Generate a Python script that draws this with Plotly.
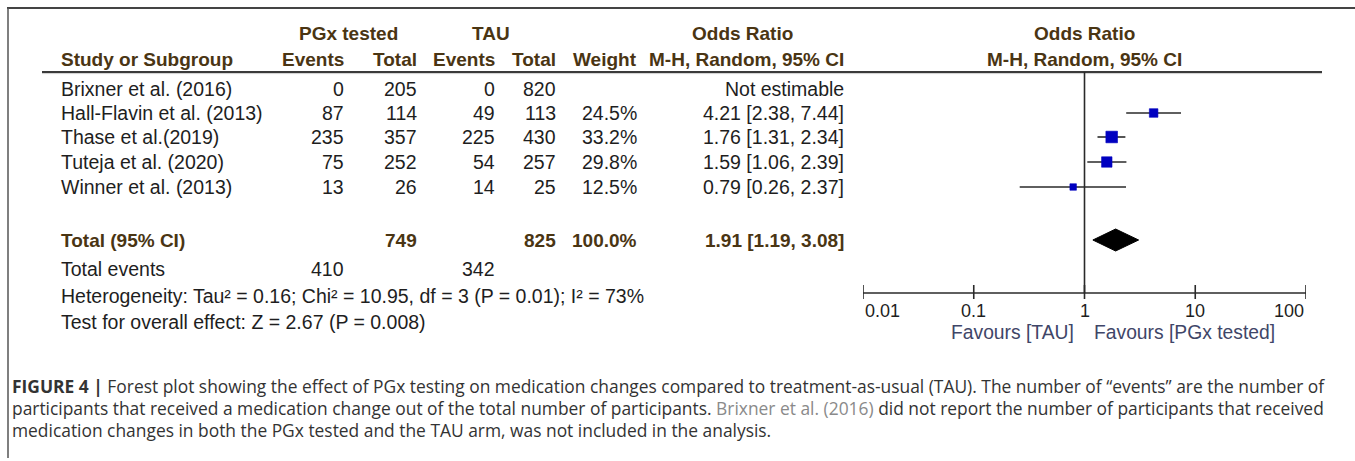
import math
import plotly.graph_objects as go

# ---------------- data ----------------
studies = ["Brixner et al. (2016)", "Hall-Flavin et al. (2013)", "Thase et al.(2019)",
           "Tuteja et al. (2020)", "Winner et al. (2013)"]
pgx_events = [0, 87, 235, 75, 13]
pgx_total = [205, 114, 357, 252, 26]
tau_events = [0, 49, 225, 54, 14]
tau_total = [820, 113, 430, 257, 25]
weights = [None, 24.5, 33.2, 29.8, 12.5]
or_est = [None, 4.21, 1.76, 1.59, 0.79]
ci_lo = [None, 2.38, 1.31, 1.06, 0.26]
ci_hi = [None, 7.44, 2.34, 2.39, 2.37]

total_label = "Total (95% CI)"
total_pgx = 749
total_tau = 825
total_weight = 100.0
total_or = 1.91
total_lo = 1.19
total_hi = 3.08
events_pgx = 410
events_tau = 342
heterogeneity = "Heterogeneity: Tau² = 0.16; Chi² = 10.95, df = 3 (P = 0.01); I² = 73%"
overall = "Test for overall effect: Z = 2.67 (P = 0.008)"

tick_vals = [0.01, 0.1, 1, 10, 100]
tick_text = ["0.01", "0.1", "1", "10", "100"]
favours_left = "Favours [TAU]"
favours_right = "Favours [PGx tested]"

caption_lines = [
    "<b>FIGURE 4 |</b> Forest plot showing the effect of PGx testing on medication changes compared to treatment-as-usual (TAU). The number of “events” are the number of",
    "participants that received a medication change out of the total number of participants. <span style='color:#8a8a8a'>Brixner et al. (2016)</span> did not report the number of participants that received",
    "medication changes in both the PGx tested and the TAU arm, was not included in the analysis.",
]

# ---------------- layout constants ----------------
W, H = 1355, 461
FONT = "Liberation Sans, Arial, sans-serif"
CAPFONT = "Open Sans, Liberation Sans, sans-serif"
HEAD = "#4a3513"
TXT = "#1e1e1e"
FAV = "#3f4668"
BLUE = "#0000c0"
REG = 19.5
BOLD = 19

row_y = [89, 113, 137, 162, 187]
total_y = 240
events_y = 269
het_y = 296
test_y = 322
head1_y = 33
head2_y = 59
rule_y = 72
axis_y = 293

col_name = 59
col_pe = 346
col_pt = 419
col_te = 497
col_tt = 558
col_w = 639
col_or = 846

def px(x):
    return x / W

fig = go.Figure()

# CI lines
for i in range(len(studies)):
    if or_est[i] is None:
        continue
    fig.add_trace(go.Scatter(x=[ci_lo[i], ci_hi[i]], y=[row_y[i], row_y[i]], mode="lines",
                             line=dict(color="#2a2a2a", width=1.6), hoverinfo="skip", showlegend=False))

# squares
sq_x = [or_est[i] for i in range(len(studies)) if or_est[i] is not None]
sq_y = [row_y[i] for i in range(len(studies)) if or_est[i] is not None]
sq_s = [max(6.5, 0.35 * weights[i]) for i in range(len(studies)) if or_est[i] is not None]
fig.add_trace(go.Scatter(x=sq_x, y=sq_y, mode="markers",
                         marker=dict(symbol="square", size=sq_s, color=BLUE, opacity=1,
                                     line=dict(width=0.6, color=BLUE)),
                         hoverinfo="skip", showlegend=False))

# diamond
dh = 11
fig.add_trace(go.Scatter(x=[total_lo, total_or, total_hi, total_or, total_lo],
                         y=[total_y, total_y - dh, total_y, total_y + dh, total_y],
                         mode="lines", fill="toself", fillcolor="black",
                         line=dict(color="black", width=1), hoverinfo="skip", showlegend=False))

shapes = []
# frame
shapes.append(dict(type="line", xref="paper", yref="y", x0=px(7), x1=1, y0=8, y1=8,
                   line=dict(color="#444", width=2)))
shapes.append(dict(type="line", xref="paper", yref="y", x0=px(8), x1=px(8), y0=8, y1=458,
                   line=dict(color="#555", width=1.5)))
# header rule
shapes.append(dict(type="line", xref="paper", yref="y", x0=px(42), x1=px(1322), y0=rule_y, y1=rule_y,
                   line=dict(color="#3a3a3a", width=2)))
shapes.append(dict(type="line", xref="paper", yref="y", x0=px(42), x1=px(1322), y0=rule_y + 1.6, y1=rule_y + 1.6,
                   line=dict(color="#cfcfcf", width=1)))
# line of no effect
shapes.append(dict(type="line", xref="x", yref="y", x0=1, x1=1, y0=rule_y, y1=axis_y,
                   line=dict(color="#2a2a2a", width=1.6)))
# axis line + crossing ticks
shapes.append(dict(type="line", xref="x", yref="y", x0=tick_vals[0], x1=tick_vals[-1], y0=axis_y, y1=axis_y,
                   line=dict(color="#2a2a2a", width=1.6)))
for tv in tick_vals:
    shapes.append(dict(type="line", xref="x", yref="y", x0=tv, x1=tv, y0=axis_y - 8, y1=axis_y + 6,
                       line=dict(color="#2a2a2a", width=1.6)))

ann = []
def t(x, y, s, anchor="left", bold=False, color=TXT, size=REG):
    ann.append(dict(x=px(x), y=y, xref="paper", yref="y", text=("<b>%s</b>" % s) if bold else s,
                    showarrow=False, xanchor=anchor, yanchor="middle",
                    font=dict(family=FONT, size=size, color=color)))

# headers
t(348, head1_y, "PGx tested", "center", True, HEAD, BOLD)
t(491, head1_y, "TAU", "center", True, HEAD, BOLD)
t(742, head1_y, "Odds Ratio", "center", True, HEAD, BOLD)
t(1084, head1_y, "Odds Ratio", "center", True, HEAD, BOLD)
t(col_name, head2_y, "Study or Subgroup", "left", True, HEAD, BOLD)
t(col_pe, head2_y, "Events", "right", True, HEAD, BOLD)
t(col_pt, head2_y, "Total", "right", True, HEAD, BOLD)
t(col_te, head2_y, "Events", "right", True, HEAD, BOLD)
t(col_tt, head2_y, "Total", "right", True, HEAD, BOLD)
t(col_w, head2_y, "Weight", "right", True, HEAD, BOLD)
t(col_or, head2_y, "M-H, Random, 95% CI", "right", True, HEAD, BOLD)
t(1084, head2_y, "M-H, Random, 95% CI", "center", True, HEAD, BOLD)

# study rows
for i, s in enumerate(studies):
    y = row_y[i]
    t(col_name, y, s)
    t(col_pe, y, str(pgx_events[i]), "right")
    t(col_pt, y, str(pgx_total[i]), "right")
    t(col_te, y, str(tau_events[i]), "right")
    t(col_tt, y, str(tau_total[i]), "right")
    if weights[i] is not None:
        t(col_w, y, "%.1f%%" % weights[i], "right")
        t(col_or, y, "%.2f [%.2f, %.2f]" % (or_est[i], ci_lo[i], ci_hi[i]), "right")
    else:
        t(col_or, y, "Not estimable", "right")

# total row
t(col_name, total_y, total_label, "left", True, HEAD, BOLD)
t(col_pt, total_y, str(total_pgx), "right", True, HEAD, BOLD)
t(col_tt, total_y, str(total_tau), "right", True, HEAD, BOLD)
t(col_w, total_y, "%.1f%%" % total_weight, "right", True, HEAD, BOLD)
t(col_or, total_y, "%.2f [%.2f, %.2f]" % (total_or, total_lo, total_hi), "right", True, HEAD, BOLD)

t(col_name, events_y, "Total events")
t(col_pe, events_y, str(events_pgx), "right")
t(col_te, events_y, str(events_tau), "right")
t(col_name, het_y, heterogeneity)
t(col_name, test_y, overall)

# tick labels (annotations on a log axis take log10 positions)
for k, (tv, tt) in enumerate(zip(tick_vals, tick_text)):
    anchor = "left" if k == 0 else ("right" if k == len(tick_vals) - 1 else "center")
    ann.append(dict(x=math.log10(tv), y=311, xref="x", yref="y", text=tt, showarrow=False, xanchor=anchor,
                    yanchor="middle", font=dict(family=FONT, size=18, color=TXT)))
ann.append(dict(x=0, y=332, xref="x", yref="y", text=favours_left, showarrow=False, xanchor="right",
                xshift=-9, yanchor="middle", font=dict(family=FONT, size=19.3, color=FAV)))
ann.append(dict(x=0, y=332, xref="x", yref="y", text=favours_right, showarrow=False, xanchor="left",
                xshift=7, yanchor="middle", font=dict(family=FONT, size=19.3, color=FAV)))

# caption
cap_y = [386, 408, 430]
for line, y in zip(caption_lines, cap_y):
    ann.append(dict(x=px(10), y=y, xref="paper", yref="y", text=line, showarrow=False, xanchor="left",
                    yanchor="middle", font=dict(family=CAPFONT, size=17.4, color="#333333")))

fig.update_layout(
    width=W, height=H, margin=dict(l=0, r=0, t=0, b=0),
    paper_bgcolor="white", plot_bgcolor="white",
    xaxis=dict(type="log", range=[-2, 2], domain=[px(863), px(1306)], visible=False, fixedrange=True),
    yaxis=dict(range=[H, 0], domain=[0, 1], visible=False, fixedrange=True),
    shapes=shapes, annotations=ann, showlegend=False,
)

fig.write_html("out.html", config={"displayModeBar": False, "staticPlot": True},
               post_script="document.body.style.margin='0';document.body.style.overflow='hidden';")
